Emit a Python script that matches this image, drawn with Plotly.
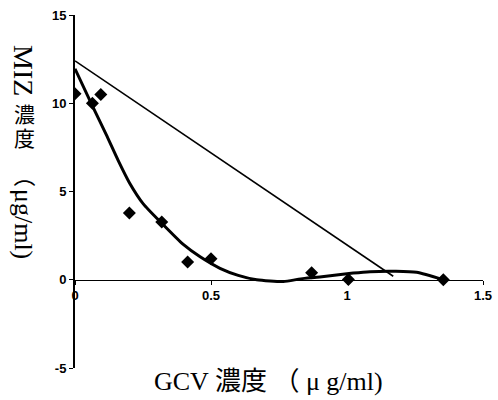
import plotly.graph_objects as go

# observed data points
obs_x = [0, 0.064, 0.095, 0.2, 0.319, 0.414, 0.5, 0.87, 1.005, 1.354]
obs_y = [10.54, 10.0, 10.5, 3.78, 3.27, 1.0, 1.19, 0.4, 0.02, 0.0]

# fitted curve
fit_x = [0, 0.067, 0.114, 0.159, 0.2, 0.251, 0.319, 0.398, 0.46, 0.533, 0.6,
         0.668, 0.766, 0.83, 0.9, 1.023, 1.085, 1.18, 1.256, 1.354]
fit_y = [11.95, 9.75, 8.25, 6.75, 5.5, 4.3, 3.2, 2.0, 1.3, 0.65, 0.25,
         0.0, -0.1, 0.05, 0.15, 0.38, 0.46, 0.48, 0.42, 0.0]

# additivity line
add_x = [0, 1.17]
add_y = [12.4, 0.2]

x_ticks = [0, 0.5, 1, 1.5]
x_tick_text = ["0", "0.5", "1", "1.5"]
y_ticks = [-5, 0, 5, 10, 15]
y_tick_text = ["-5", "0", "5", "10", "15"]

fig = go.Figure()
fig.add_trace(go.Scatter(x=add_x, y=add_y, mode="lines",
                         line=dict(color="black", width=1.6), hoverinfo="skip"))
fig.add_trace(go.Scatter(x=fit_x, y=fit_y, mode="lines",
                         line=dict(color="black", width=3, shape="spline", smoothing=0.6),
                         hoverinfo="skip"))
fig.add_trace(go.Scatter(x=obs_x, y=obs_y, mode="markers",
                         marker=dict(symbol="diamond", size=10, color="black")))

tickfont = dict(family="Liberation Sans, Arial, sans-serif", size=13, color="black", weight="bold")

fig.update_layout(
    width=498, height=400,
    margin=dict(l=75, r=15, t=15, b=32),
    paper_bgcolor="white", plot_bgcolor="white",
    showlegend=False,
    xaxis=dict(range=[0, 1.5], tickvals=x_ticks, ticktext=x_tick_text,
               anchor="free", position=0.25, showline=True, linecolor="black", linewidth=1,
               ticks="outside", ticklen=4, tickcolor="black", showgrid=False, zeroline=False,
               tickfont=tickfont, automargin=False),
    yaxis=dict(range=[-5, 15], tickvals=y_ticks, ticktext=y_tick_text,
               showline=True, linecolor="black", linewidth=2,
               ticks="outside", ticklen=4, tickcolor="black", showgrid=False, zeroline=False,
               tickfont=tickfont, automargin=False),
)

xtitlefont = dict(family="Liberation Serif, Noto Sans CJK JP, serif", size=26, color="black")
fig.add_annotation(text="GCV 濃度 （ μ g/ml)", xref="paper", yref="paper",
                   x=(268 - 75) / 408, y=(368 - 381) / 353, showarrow=False,
                   font=xtitlefont, xanchor="center", yanchor="middle")

# vertical y title pieces
ypieces = [("MIZ", 70, 90, 28), ("濃", 115, 0, 21), ("度", 139, 0, 21),
           ("（", 176, 90, 22), ("μg/ml)", 224, 90, 26)]
for txt, ypix, ang, sz in ypieces:
    fig.add_annotation(text=txt, xref="paper", yref="paper",
                       x=(24 - 75) / 408, y=(368 - ypix) / 353, showarrow=False,
                       textangle=ang, xanchor="center", yanchor="middle",
                       font=dict(family="Liberation Serif, Noto Sans CJK JP, serif",
                                 size=sz, color="black"))

fig.write_html("out.html", config={"displayModeBar": False},
               post_script="document.body.style.margin='0';")
